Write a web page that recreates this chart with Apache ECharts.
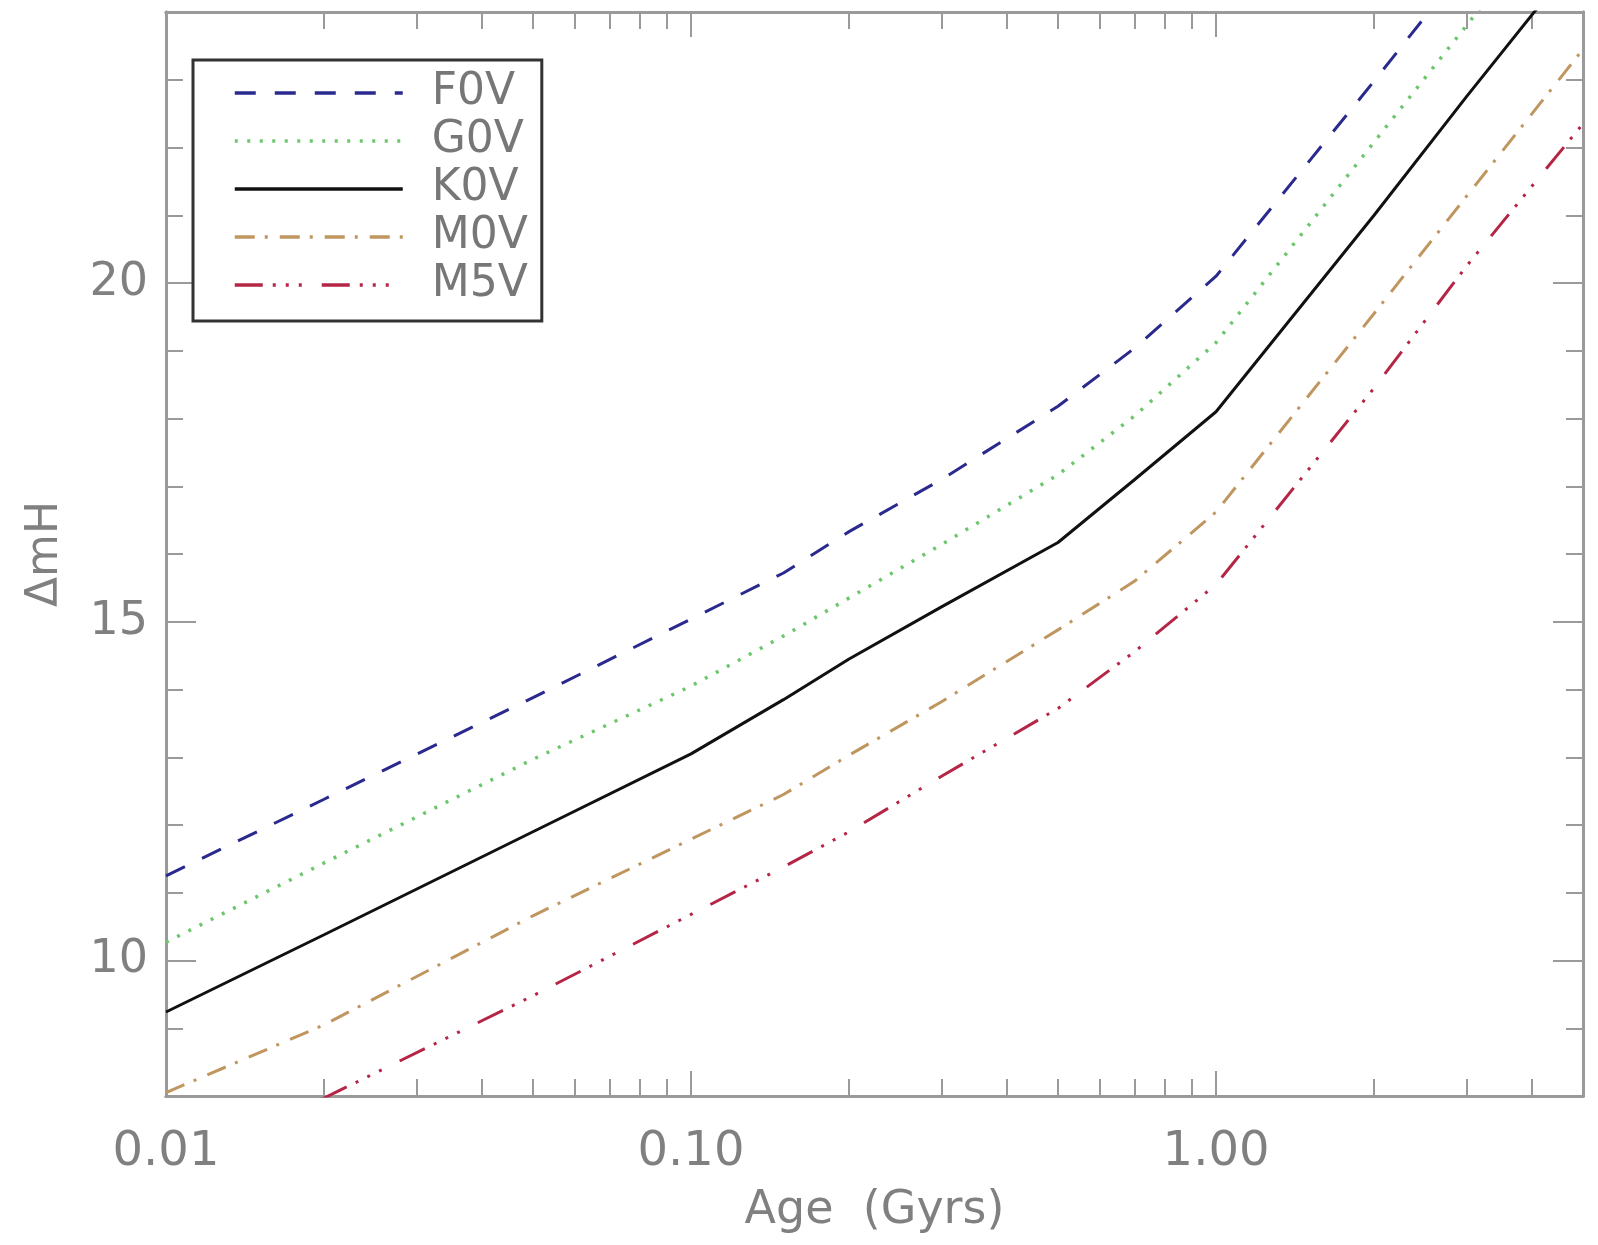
<!DOCTYPE html>
<html>
<head>
<meta charset="utf-8">
<script src="https://cdn.jsdelivr.net/npm/echarts@6/dist/echarts.min.js"></script>
<style>
html,body{margin:0;padding:0;background:#fff;}
#chart{width:1598px;height:1245px;}
</style>
</head>
<body>
<div id="chart"></div>
<script>
// ---- data ----
const ages = [0.01, 0.02, 0.05, 0.1, 0.15, 0.2, 0.3, 0.5, 0.7, 1.0, 2.0, 3.0, 5.0];
const F0V = [11.25, 12.38, 13.88, 15.04, 15.72, 16.33, 17.10, 18.18, 19.04, 20.10, 22.98, 24.70, 26.80];
const G0V = [10.27, 11.44, 12.97, 14.05, 14.79, 15.35, 16.14, 17.17, 18.04, 19.12, 22.08, 23.80, 26.00];
const K0V = [9.24, 10.38, 11.90, 13.05, 13.85, 14.45, 15.22, 16.17, 17.10, 18.10, 21.00, 22.75, 24.90];
const M0V = [8.05, 9.05, 10.66, 11.79, 12.45, 13.03, 13.82, 14.88, 15.60, 16.62, 19.55, 21.28, 23.45];
const M5V = [6.80, 7.97, 9.48, 10.68, 11.38, 11.90, 12.72, 13.72, 14.56, 15.55, 18.45, 20.25, 22.35];
const seriesNames = ['F0V', 'G0V', 'K0V', 'M0V', 'M5V'];
const xMajorTicks = [0.01, 0.1, 1];
const xMinorTicks = [0.02,0.03,0.04,0.05,0.06,0.07,0.08,0.09,0.2,0.3,0.4,0.5,0.6,0.7,0.8,0.9,2,3,4,5];
const yMajorTicks = [10, 15, 20];

// ---- styles ----
const styles = {
  F0V: {color: '#2a2a8e', width: 3, type: [21, 19]},
  G0V: {color: '#6cc66c', width: 3.5, type: [3, 9.5]},
  K0V: {color: '#111111', width: 3, type: 'solid'},
  M0V: {color: '#c09660', width: 3, type: [20, 10, 3, 12]},
  M5V: {color: '#b52646', width: 3, type: [28, 10, 3, 10, 3, 10, 3, 20]}
};
const valuesByName = {F0V, G0V, K0V, M0V, M5V};

const frameColor = '#9a9a9a';
const labelColor = '#808080';
const fontFam = 'DejaVu Sans, sans-serif';

function xAxisDef(pos, ticks, len, showLabel) {
  return {
    type: 'log', logBase: 10, min: 0.01, max: 5, position: pos,
    axisLine: {show: true, onZero: false, lineStyle: {color: frameColor, width: 3}},
    axisTick: {show: true, inside: true, length: len, customValues: ticks, lineStyle: {color: frameColor, width: 2}},
    minorTick: {show: false},
    splitLine: {show: false},
    axisLabel: showLabel ? {
      show: true, customValues: xMajorTicks, margin: 33, color: labelColor,
      fontFamily: fontFam, fontSize: 48,
      formatter: v => Number(v).toFixed(2)
    } : {show: false},
    name: showLabel ? 'Age  (Gyrs)' : '',
    nameLocation: 'middle', nameGap: 92,
    nameTextStyle: {color: labelColor, fontFamily: fontFam, fontSize: 46}
  };
}
function yAxisDef(pos, ticks, len, showLabel) {
  return {
    type: 'value', min: 8, max: 24, interval: 1, position: pos,
    axisLine: {show: true, onZero: false, lineStyle: {color: frameColor, width: 3}},
    axisTick: ticks ? {show: true, inside: true, length: len, customValues: ticks, lineStyle: {color: frameColor, width: 2}}
                    : {show: true, inside: true, length: len, lineStyle: {color: frameColor, width: 2}},
    splitLine: {show: false},
    axisLabel: showLabel ? {
      show: true, customValues: yMajorTicks, margin: 18, color: labelColor,
      fontFamily: fontFam, fontSize: 46
    } : {show: false},
    name: showLabel ? 'ΔmH' : '',
    nameLocation: 'middle', nameGap: 98, nameRotate: 90,
    nameTextStyle: {color: labelColor, fontFamily: fontFam, fontSize: 44}
  };
}

const chart = echarts.init(document.getElementById('chart'), null, {renderer: 'canvas'});
chart.setOption({
  animation: false,
  backgroundColor: '#ffffff',
  grid: {left: 166, right: 15, top: 12, bottom: 149, outerBoundsMode: 'none'},
  xAxis: [
    xAxisDef('bottom', xMajorTicks, 25, true),
    xAxisDef('bottom', xMinorTicks, 17, false),
    xAxisDef('top', xMajorTicks, 25, false),
    xAxisDef('top', xMinorTicks, 17, false)
  ],
  yAxis: [
    yAxisDef('left', yMajorTicks, 30, true),
    yAxisDef('left', null, 17, false),
    yAxisDef('right', yMajorTicks, 30, false),
    yAxisDef('right', null, 17, false)
  ],
  legend: {
    orient: 'vertical', left: 193, top: 60,
    backgroundColor: '#ffffff',
    borderColor: '#333333', borderWidth: 3, borderRadius: 0,
    padding: [9, 14, 12, 40],
    itemWidth: 168, itemHeight: 20, itemGap: 0,
    itemStyle: {opacity: 0},
    lineStyle: {opacity: 1, width: 3.5},
    textStyle: {color: '#777777', fontFamily: fontFam, fontSize: 44, lineHeight: 48, padding: [0, 0, 0, 24]},
    data: seriesNames
  },
  series: seriesNames.map(n => ({
    name: n, type: 'line', xAxisIndex: 0, yAxisIndex: 0,
    symbol: 'none', showSymbol: false, clip: true, smooth: false,
    lineStyle: {color: styles[n].color, width: styles[n].width, type: styles[n].type},
    itemStyle: {color: styles[n].color},
    data: ages.map((a, i) => [a, valuesByName[n][i]])
  }))
});
</script>
</body>
</html>
